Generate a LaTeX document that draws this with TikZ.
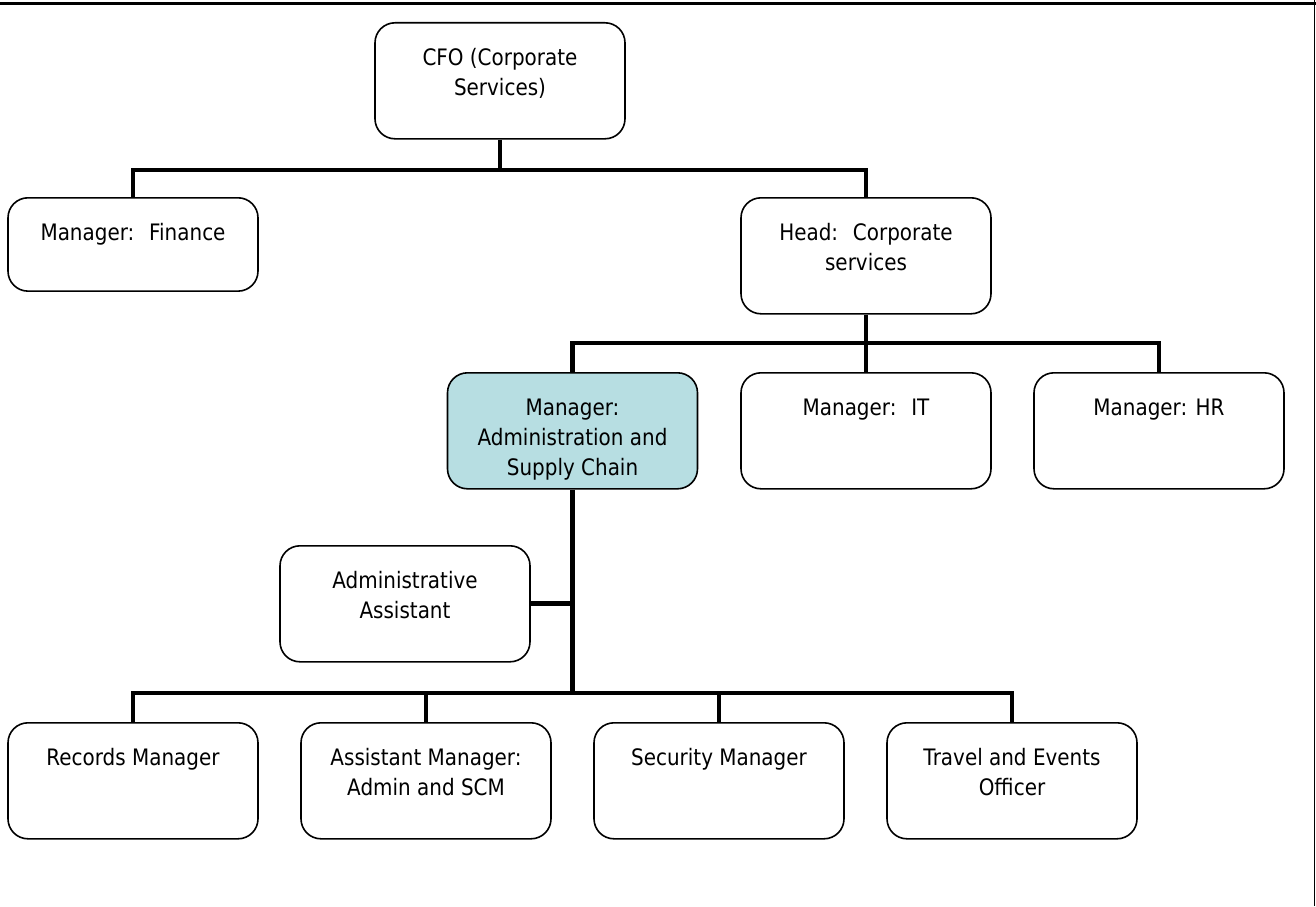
\documentclass[tikz,border=0pt]{standalone}
\usepackage{fontspec}
\setmainfont{DejaVu Sans}[FakeStretch=0.88]
\definecolor{adminblue}{RGB}{183,222,226}
\tikzset{
	post/.style={draw, line width=1.2pt, rounded corners=15pt, inner sep=0pt, anchor=north,
		font=\fontsize{17}{22.5}\selectfont,
		execute at begin node={\begin{minipage}[t][#1][t]{187.5pt}\centering\rule{0pt}{32pt}},
		execute at end node={\end{minipage}}},
	post/.default=87pt,
	link/.style={line width=3.5pt}
}

\begin{document}
\begin{tikzpicture}[x=0.75pt, y=-0.75pt]
				\useasboundingbox (0, 0) rectangle (1316, 906);
				\draw[line width=2.25pt] (0, 4) -- (1316, 4);
				\draw[line width=1.2pt] (1314.5, 0) -- (1314.5, 906);
				\node[post] (cfo) at (500, 22) {CFO (Corporate\\ Services)};
				\node[post=70pt] (fin) at (133, 197) {Manager:~ Finance};
				\node[post] (head) at (866, 197) {Head:~ Corporate\\ services};
				\node[post, fill=adminblue] (adm) at (572.5, 372) {Manager:\\ Administration and\\ Supply Chain};
				\node[post] (it) at (866, 372) {Manager:~ IT};
				\node[post] (hr) at (1159, 372) {Manager: HR};
				\node[post] (asst) at (405, 545) {Administrative\\ Assistant};
				\node[post] (rec) at (133, 722) {Records Manager};
				\node[post] (asm) at (426, 722) {Assistant Manager:\\ Admin and SCM};
				\node[post] (sec) at (719, 722) {Security Manager};
				\node[post] (trv) at (1012, 722) {Travel and Events\\ Officer};
				\coordinate (bar1) at (0, 170);
				\coordinate (bar2) at (0, 343);
				\coordinate (bar3) at (0, 693);
				\draw[link] (cfo.south) -- (cfo.south |- bar1);
				\draw[link] (fin.north) |- (bar1 -| head.north) -- (head.north);
				\draw[link] (head.south) -- (it.north);
				\draw[link] (adm.north) |- (bar2 -| hr.north) -- (hr.north);
				\draw[link] (adm.south) -- (adm.south |- bar3);
				\draw[link] (asst.east) -- (asst.east -| adm.south);
				\draw[link] (rec.north) |- (bar3 -| trv.north) -- (trv.north);
				\draw[link] (asm.north) -- (asm.north |- bar3);
				\draw[link] (sec.north) -- (sec.north |- bar3);
\end{tikzpicture}
\end{document}
